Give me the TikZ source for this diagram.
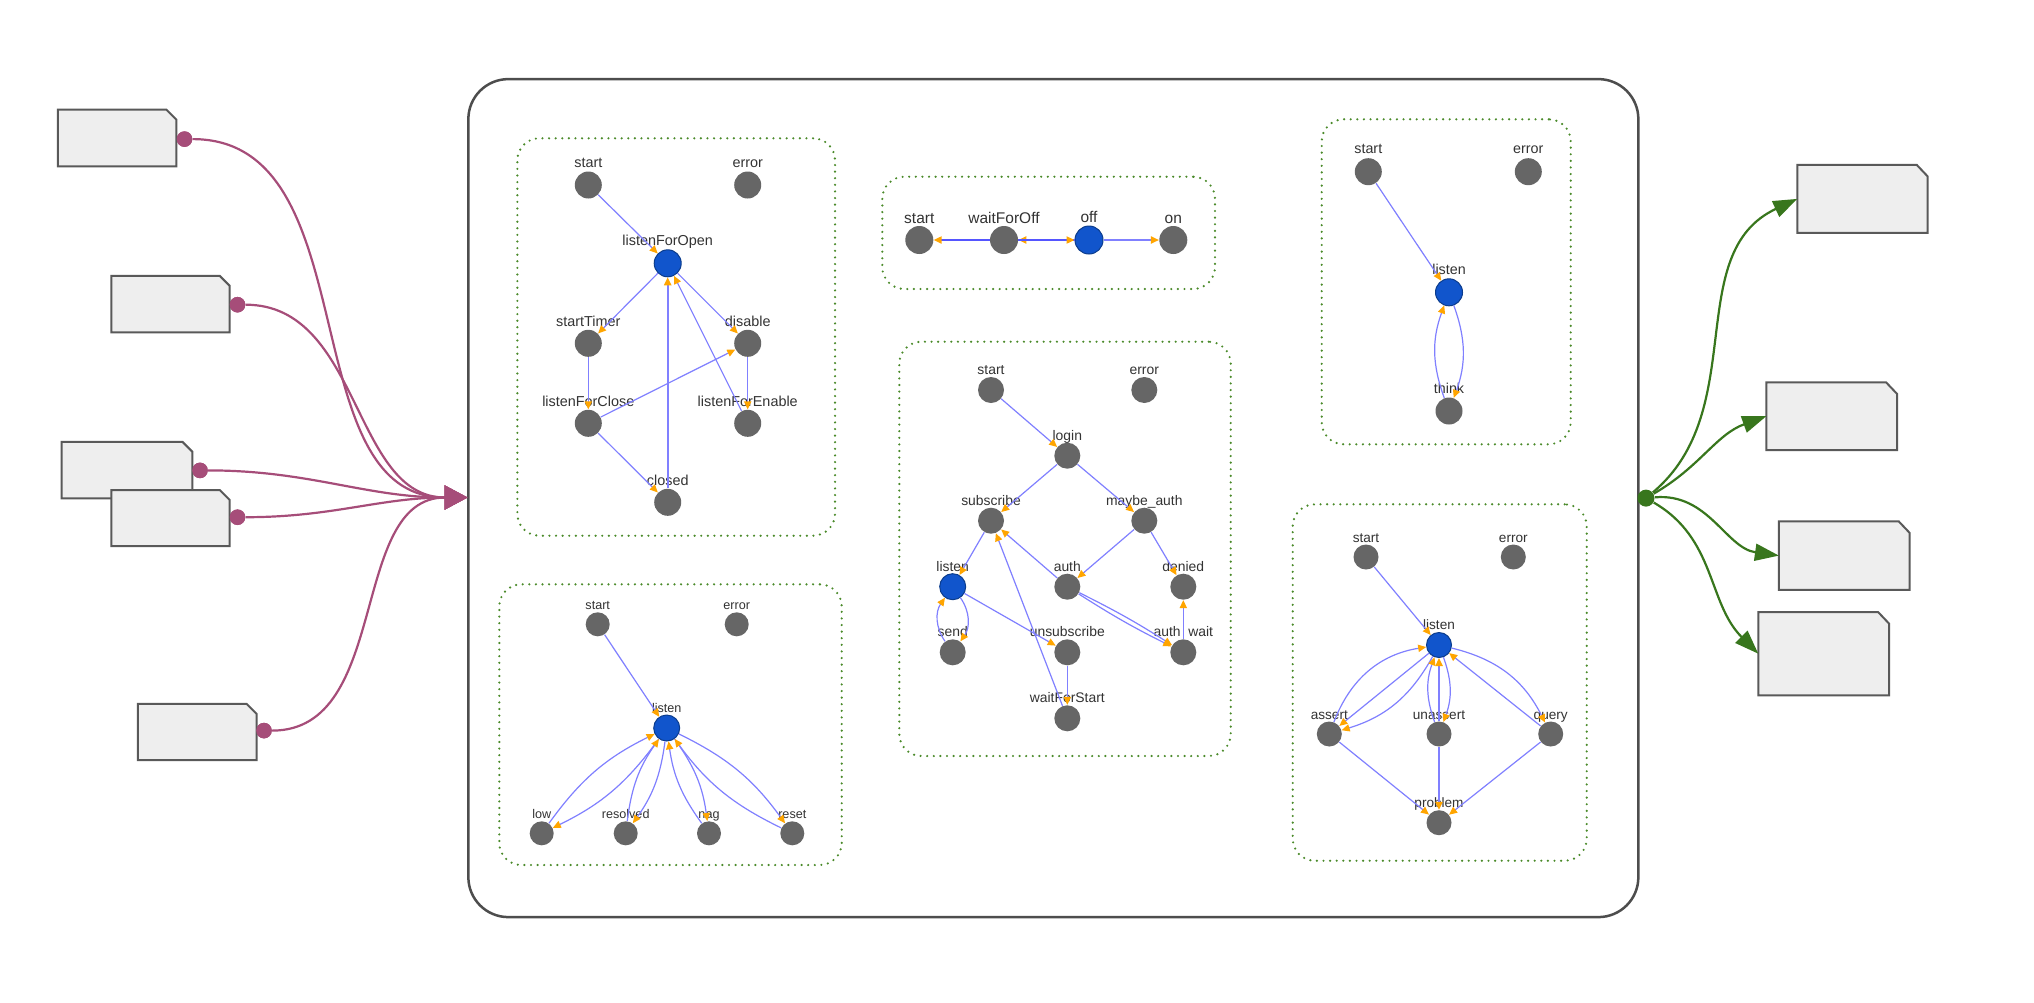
\documentclass[tikz,border=0pt]{standalone}
\usepackage{fontspec}
\setmainfont{Liberation Sans}
\usetikzlibrary{arrows.meta}
\definecolor{stgrey}{HTML}{666666}
\definecolor{stblue}{HTML}{1155CC}
\definecolor{stblued}{HTML}{0B3C8C}
\definecolor{edgec}{HTML}{8080FF}
\definecolor{edged}{HTML}{5555FF}
\definecolor{tipc}{HTML}{FFA500}
\definecolor{labc}{HTML}{333333}
\definecolor{boxg}{HTML}{4A8A2A}
\definecolor{mag}{HTML}{A64D79}
\definecolor{grn}{HTML}{38761D}
\definecolor{docfill}{HTML}{EEEEEE}
\definecolor{doclinec}{HTML}{595959}
\definecolor{mainline}{HTML}{4D4D4D}
\newcommand\docoutline[3]{%
  \draw[docshape] (#1.south west) -- (#1.north west) -- ([xshift=-#2]#1.north east)
    -- ([yshift=-#3]#1.north east) -- (#1.south east) -- cycle;}
\begin{document}
\begin{tikzpicture}[x=0.5pt,y=-0.5pt,
  st/.style={circle, fill=stgrey, inner sep=0pt},
  stb/.style={st, fill=stblue, draw=stblued, line width=0.5pt},
  every label/.style={text=labc, inner sep=0pt, text depth=0pt, label distance=1.5pt},
  trans/.style={draw=edgec, line width=0.6pt, -{Triangle[length=4pt,width=3.6pt,color=tipc]}},
  grp/.style={draw=boxg, line width=1.2pt, dash pattern=on 0pt off 3.3pt, line cap=round, rounded corners=11pt, inner sep=0pt, rectangle},
  mainbox/.style={draw=mainline, line width=1.25pt, fill=white, rounded corners=20pt, inner sep=0pt, rectangle},
  docn/.style={draw=none, inner sep=0pt, rectangle},
  docshape/.style={draw=doclinec, fill=docfill, line width=1pt, line join=miter},
  mdot/.style={circle, fill=mag, inner sep=0pt, minimum size=7.8pt},
  gdot/.style={circle, fill=grn, inner sep=0pt, minimum size=8.5pt},
  magc/.style={draw=mag, line width=1.1pt, -{Triangle[length=11.5pt,width=12pt]}},
  grnc/.style={draw=grn, line width=1.1pt, -{Triangle[length=12pt,width=8.5pt]}}
]
\useasboundingbox (0,0) rectangle (2034,1002);

% main container
\node[mainbox, minimum width=585pt, minimum height=419pt] (main) at (1053.35,498.1) {};
\coordinate (inport) at (467.5,497.5);

% left documents
\node[docn, minimum width=58.85pt, minimum height=27.9pt] (L1) at (117.15,138) {};
\node[docn, minimum width=58.8pt, minimum height=27.9pt] (L2) at (170.5,304.1) {};
\node[docn, minimum width=65pt, minimum height=27.9pt] (L3) at (127,470.1) {};
\node[docn, minimum width=58.8pt, minimum height=27.7pt] (L4) at (170.5,518.1) {};
\node[docn, minimum width=59pt, minimum height=27.7pt] (L5) at (197.3,732) {};
\node[mdot] (d1) at (184.5,139.1) {};
\node[mdot] (d2) at (237.5,304.7) {};
\node[mdot] (d3) at (200,470.4) {};
\node[mdot] (d4) at (237.5,517.2) {};
\node[mdot] (d5) at (264,730.6) {};
\draw[magc] (d1) to[out=0,in=180] (inport);
\draw[magc] (d2) to[out=0,in=180] (inport);
\draw[magc] (d3) to[out=0,in=180] (inport);
\draw[magc] (d4) to[out=0,in=180] (inport);
\draw[magc] (d5) to[out=0,in=180] (inport);
\docoutline{L1}{5pt}{5pt}
\docoutline{L2}{5pt}{5pt}
\docoutline{L3}{5pt}{5pt}
\docoutline{L4}{5pt}{5pt}
\docoutline{L5}{5pt}{5pt}
\node[mdot] at (d1) {};
\node[mdot] at (d2) {};
\node[mdot] at (d3) {};
\node[mdot] at (d4) {};
\node[mdot] at (d5) {};

% right documents
\node[docn, minimum width=64.8pt, minimum height=33.65pt] (R1) at (1862.5,198.9) {};
\node[docn, minimum width=65pt, minimum height=33.45pt] (R2) at (1831.7,416.2) {};
\node[docn, minimum width=65pt, minimum height=33.85pt] (R3) at (1844.3,555.6) {};
\node[docn, minimum width=65pt, minimum height=41.25pt] (R4) at (1823.7,653.7) {};
\docoutline{R1}{5.5pt}{5.8pt}
\docoutline{R2}{5.5pt}{5.8pt}
\docoutline{R3}{5.5pt}{5.8pt}
\docoutline{R4}{5.5pt}{5.8pt}
\node[gdot] (outdot) at (1646,498.1) {};
\draw[grnc] (outdot) to[out=40,in=205] (R1.west);
\draw[grnc] (outdot) to[out=30,in=200] (R2.west);
\draw[grnc] (outdot) to[out=5,in=172] (R3.west);
\draw[grnc] (outdot) to[out=-30,in=135] (R4.west);

% group boxes
\node[grp, minimum width=158.85pt, minimum height=198.7pt] (GA) at (676.2,337) {};
\node[grp, minimum width=171.2pt, minimum height=140.35pt] (GB) at (670.5,724.65) {};
\node[grp, minimum width=166.35pt, minimum height=56.15pt] (GC) at (1048.65,232.85) {};
\node[grp, minimum width=165.7pt, minimum height=207.15pt] (GD) at (1065,548.85) {};
\node[grp, minimum width=124.5pt, minimum height=162.5pt] (GE) at (1446.2,281.8) {};
\node[grp, minimum width=147pt, minimum height=178.2pt] (GF) at (1439.7,682.5) {};

% ---- Box A
\begin{scope}[every label/.append style={font=\fontsize{7.2}{8}\selectfont, label distance=1.5pt},
  st/.append style={minimum size=13.5pt}]
\node[st, label=above:start] (A1) at (588.3,185) {};
\node[st, label=above:error] (A2) at (747.7,185) {};
\node[stb, label=above:listenForOpen] (A3) at (667.7,263.3) {};
\node[st, label=above:startTimer] (A4) at (588.3,343.3) {};
\node[st, label=above:disable] (A5) at (747.7,343.3) {};
\node[st, label=above:listenForClose] (A6) at (588.3,423.3) {};
\node[st, label=above:listenForEnable] (A7) at (747.7,423.3) {};
\node[st, label=above:closed] (A8) at (667.7,502.3) {};
\draw[trans] (A1) -- (A3);
\draw[trans] (A3) -- (A4);
\draw[trans] (A3) -- (A5);
\draw[trans] (A4) -- (A6);
\draw[trans] (A5) -- (A7);
\draw[trans] (A6) -- (A5);
\draw[trans] (A6) -- (A8);
\draw[trans, line width=1pt] (A8) -- (A3);
\draw[trans] (A7) -- (A3);
\end{scope}

% ---- Box B
\begin{scope}[every label/.append style={font=\fontsize{6.3}{7}\selectfont, label distance=0.8pt},
  st/.append style={minimum size=12pt}]
\node[st, label=above:start] (B1) at (597.7,624.3) {};
\node[st, label=above:error] (B2) at (736.7,624.3) {};
\node[stb, minimum size=13pt, label=above:listen] (B3) at (666.7,728) {};
\node[st, label=above:low] (B4) at (541.7,833.3) {};
\node[st, label=above:resolved] (B5) at (625.7,833.3) {};
\node[st, label=above:nag] (B6) at (709,833.3) {};
\node[st, label=above:reset] (B7) at (792.3,833.3) {};
\draw[trans] (B1) -- (B3);
\draw[trans] (B3) to[bend left=14] (B4);
\draw[trans] (B4) to[bend left=14] (B3);
\draw[trans] (B3) to[bend left=14] (B5);
\draw[trans] (B5) to[bend left=14] (B3);
\draw[trans] (B6) to[bend left=14] (B3);
\draw[trans] (B3) to[bend left=14] (B6);
\draw[trans] (B7) to[bend left=14] (B3);
\draw[trans] (B3) to[bend left=14] (B7);
\end{scope}

% ---- Box C
\begin{scope}[every label/.append style={font=\fontsize{7.75}{9}\selectfont, label distance=1.1pt},
  st/.append style={minimum size=14pt}]
\node[st, label=above:start] (C1) at (919.3,240) {};
\node[st, label=above:waitForOff] (C2) at (1004,240) {};
\node[stb, label=above:off] (C3) at (1089,240) {};
\node[st, label=above:on] (C4) at (1173.3,240) {};
\draw[trans, draw=edged, line width=0.8pt] (C2) -- (C1);
\draw[trans, draw=edged, line width=0.8pt] (C3) -- (C2);
\draw[trans, draw=edged, line width=0.8pt] (C2) -- (C3);
\draw[trans, line width=0.8pt] (C3) -- (C4);
\end{scope}

% ---- Box D
\begin{scope}[every label/.append style={font=\fontsize{6.95}{8}\selectfont, label distance=0.85pt},
  st/.append style={minimum size=13pt}]
\node[st, label=above:start] (D1) at (991,390) {};
\node[st, label=above:error] (D2) at (1144.3,390) {};
\node[st, label=above:login] (D3) at (1067.3,455.7) {};
\node[st, label=above:subscribe] (D4) at (991,520.7) {};
\node[st, label=above:maybe\_auth] (D5) at (1144.3,520.7) {};
\node[stb, label=above:listen] (D6) at (952.7,586.7) {};
\node[st, label=above:auth] (D7) at (1067.3,586.7) {};
\node[st, label=above:denied] (D8) at (1183.3,586.7) {};
\node[st, label=above:send] (D9) at (952.7,652.3) {};
\node[st, label=above:unsubscribe] (D10) at (1067.3,652.3) {};
\node[st, label={above:auth\hspace{0.55em}wait}] (D11) at (1183.3,652.3) {};
\node[st, label=above:waitForStart] (D12) at (1067.3,718.3) {};
\draw[trans] (D1) -- (D3);
\draw[trans] (D3) -- (D4);
\draw[trans] (D3) -- (D5);
\draw[trans] (D4) -- (D6);
\draw[trans] (D5) -- (D7);
\draw[trans] (D5) -- (D8);
\draw[trans] (D7) -- (D4);
\draw[trans] (D6) to[bend left=35] (D9);
\draw[trans] (D9) to[bend left=35] (D6);
\draw[trans] (D6) -- (D10);
\draw[trans] (D10) -- (D12);
\draw[trans] (D12) -- (D4);
\draw[trans] (D7) to[bend left=3] (D11);
\draw[trans] (D7) to[bend right=3] (D11);
\draw[trans] (D11) -- (D8);
\end{scope}

% ---- Box E
\begin{scope}[every label/.append style={font=\fontsize{7.15}{8}\selectfont, label distance=1.75pt},
  st/.append style={minimum size=13.5pt}]
\node[st, label=above:start] (E1) at (1368.3,171.7) {};
\node[st, label=above:error] (E2) at (1528.3,171.7) {};
\node[stb, label=above:listen] (E3) at (1449,292.3) {};
\node[st, label=above:think] (E4) at (1449,411) {};
\draw[trans] (E1) -- (E3);
\draw[trans] (E3) to[bend left=20] (E4);
\draw[trans] (E4) to[bend left=20] (E3);
\end{scope}

% ---- Box F
\begin{scope}[every label/.append style={font=\fontsize{6.8}{8}\selectfont, label distance=0.85pt},
  st/.append style={minimum size=12.5pt}]
\node[st, label=above:start] (F1) at (1366,557) {};
\node[st, label=above:error] (F2) at (1513.3,557) {};
\node[stb, label=above:listen] (F3) at (1439,645) {};
\node[st, label=above:assert] (F4) at (1329.3,734) {};
\node[st, label=above:unassert] (F5) at (1439,734) {};
\node[st, label=above:query] (F6) at (1550.7,734) {};
\node[st, label=above:problem] (F7) at (1439,822.7) {};
\draw[trans] (F1) -- (F3);
\draw[trans] (F4) to[bend left=30] (F3);
\draw[trans] (F3) -- (F4);
\draw[trans] (F3) to[bend left=22] (F4);
\draw[trans] (F5) to[bend left=20] (F3);
\draw[trans, line width=0.9pt] (F5) -- (F3);
\draw[trans] (F3) to[bend left=20] (F5);
\draw[trans] (F3) to[bend left=25] (F6);
\draw[trans] (F6) -- (F3);
\draw[trans] (F4) -- (F7);
\draw[trans, line width=1pt] (F5) -- (F7);
\draw[trans] (F6) -- (F7);
\end{scope}
\end{tikzpicture}
\end{document}
